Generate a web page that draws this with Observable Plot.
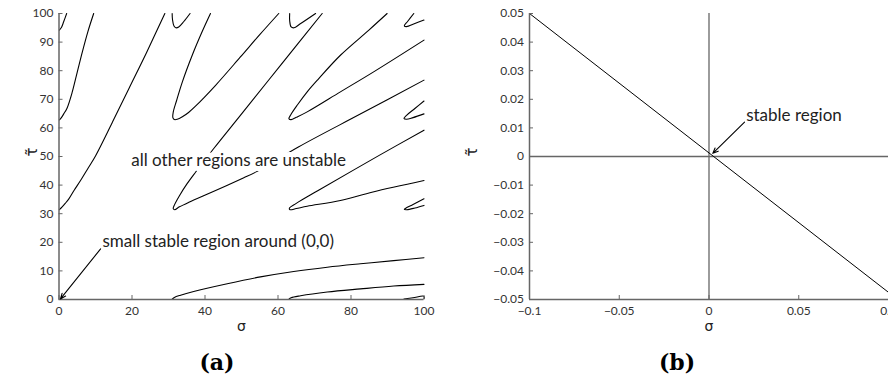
<!DOCTYPE html>
<html><head><meta charset="utf-8">
<script src="https://cdn.jsdelivr.net/npm/d3@7"></script>
<script src="https://cdn.jsdelivr.net/npm/@observablehq/plot@0.6"></script>
<style>
body{margin:0;background:#fff;}
#wrap{position:relative;width:888px;height:379px;overflow:hidden;background:#fff;}
.panel{position:absolute;top:0;width:444px;}
.cap{position:absolute;width:100px;text-align:center;font:bold 22px "DejaVu Serif";color:#000;line-height:24px;}
</style></head><body>
<div id="wrap">
  <div id="pa" class="panel" style="left:0"></div>
  <div id="pb" class="panel" style="left:444px"></div>
  <div class="cap" style="left:167px;top:350px">(a)</div>
  <div class="cap" style="left:627px;top:350px">(b)</div>
</div>
<script>
// ---------- Panel (a): stability boundary curves, [sigma, tau] ----------
const sigmaTicksA = [0, 20, 40, 60, 80, 100];
const tauTicksA = [0, 10, 20, 30, 40, 50, 60, 70, 80, 90, 100];

const curve0_3 = [[0.1,94.2],[0.7,95.2],[1.3,97.2],[2.1,100]];
const curve0_2 = [[0.1,62.8],[0.6,63.5],[1.3,64.9],[2.2,66.9],[3.6,72.4],[5.0,79.5],[6.4,86.6],[7.9,93.6],[9.5,100]];
const curve0_1 = [[0.1,31.4],[0.8,32.3],[1.7,33.6],[2.7,35.2],[4.2,38.3],[5.9,41.6],[8.0,46.0],[10.0,50.2],[14.6,61.9],[19.2,73.9],[24.0,86.4],[29.0,100]];
const curve1_3 = [[31.0,100],[31.1,97.8],[31.5,95.6],[32.0,95.0],[32.8,95.3],[34.2,97.2],[35.9,100]];
const curve1_2 = [[41.5,100],[39.2,93.6],[36.5,85.4],[33.8,76.1],[32.2,69.5],[31.3,65.5],[31.2,63.6],[31.6,62.9],[32.4,63.0],[33.8,63.9],[35.5,65.4],[37.4,67.6],[42.9,74.9],[49.7,84.8],[55.0,92.6],[60.2,100]];
const curve1_1 = [[72.1,100],[60.9,82.2],[49.7,64.4],[42.4,52.8],[37.4,44.5],[35.1,40.5],[33.0,36.3],[31.6,33.0],[31.3,31.8],[31.7,31.4],[33.0,32.4],[35.6,34.0],[42.9,38.1],[50.5,42.5],[54.3,44.8],[65.7,53.4],[82.8,65.0],[100,76.7]];
const curve2_3 = [[63.2,100],[63.2,97.5],[63.6,95.3],[64.4,95.0],[66.0,96.3],[70.3,100]];
const curve2_2 = [[89.9,100],[84.9,94.2],[77.1,85.4],[71.0,77.0],[68.0,72.6],[65.3,68.0],[63.5,64.6],[63.0,63.2],[63.6,62.9],[65.0,63.7],[68.0,65.6],[77.1,72.6],[86.2,79.6],[100,90.7]];
const curve2_1 = [[100,59.2],[87.6,50.3],[71.0,38.1],[65.0,33.6],[63.1,31.9],[63.3,31.4],[65.0,31.8],[68.0,32.6],[77.1,34.6],[86.0,37.6],[100,41.6]];
const curve3_3 = [[97.2,100],[95.5,97.2],[94.6,95.7],[95.2,95.4],[97.5,96.5],[100,97.7]];
const curve3_2 = [[100,69.4],[97.5,66.8],[95.3,64.5],[94.5,63.3],[95.2,63.0],[97.0,63.6],[100,64.9]];
const curve3_1 = [[100,35.2],[97.0,33.2],[95.0,31.9],[94.6,31.5],[95.3,31.4],[97.5,32.0],[100,32.9]];
const curve1_0 = [[31.0,0.1],[31.6,0.7],[33.3,1.5],[36.9,2.8],[46.1,5.5],[55.2,7.9],[64.3,9.8],[73.5,11.3],[82.6,12.5],[91.7,13.6],[100,14.6]];
const curve2_0 = [[63.0,0.1],[63.6,0.6],[66.2,1.3],[73.5,2.6],[82.6,3.7],[91.7,4.7],[100,5.3]];
const curve3_0 = [[94.5,0.2],[97.0,0.6],[100,1.1],[100,0.2]];

const curvesA = [curve0_3, curve0_2, curve0_1, curve1_3, curve1_2, curve1_1, curve2_3, curve2_2, curve2_1,
                 curve3_3, curve3_2, curve3_1, curve1_0, curve2_0, curve3_0];
const rowsA = curvesA.flatMap((pts, id) => pts.map(([s, t]) => ({id, s, t})));

const textUnstable = "all other regions are unstable";
const textSmall = "small stable region around (0,0)";
const notesA = [{s: 49.2, t: 48.6, label: textUnstable}];
const notesA2 = [{s: 11.9, t: 20.4, label: textSmall}];
const arrowA = [{s1: 11.4, t1: 17.7, s2: 0.4, t2: 0.2}];

// ---------- Panel (b): zoom near origin ----------
const sigmaTicksB = [-0.1, -0.05, 0, 0.05, 0.1];
const tauTicksB = [-0.05, -0.04, -0.03, -0.02, -0.01, 0, 0.01, 0.02, 0.03, 0.04, 0.05];
const sigmaB = [-0.1, 0.1];
const tauB = [0.05, -0.0475];
const rowsB = sigmaB.map((s, i) => ({s, t: tauB[i]}));
const notesB = [{s: 0.0207, t: 0.0143, label: "stable region"}];
const arrowB = [{s1: 0.0198, t1: 0.0120, s2: 0.0021, t2: 0.0011}];

const axisColor = "#666";
const labelColor = "#333";
const tickFont = 12;
const fmt = d => String(d).replace("-", "\u2212");
const sans = "Lato, 'Open Sans', sans-serif";

function commonStyle() {
  return {fontFamily: sans, fontSize: "12px", color: labelColor, overflow: "visible", background: "transparent"};
}

const plotA = Plot.plot({
  width: 444, height: 340,
  marginLeft: 58.5, marginRight: 20.5, marginTop: 13, marginBottom: 41,
  style: commonStyle(),
  x: {domain: [0, 100], label: null},
  y: {domain: [0, 100], label: null},
  marks: [
    Plot.line(rowsA, {x: "s", y: "t", z: "id", stroke: "#000", strokeWidth: 1.1, curve: "catmull-rom"}),
    Plot.ruleX([0], {stroke: axisColor, strokeWidth: 1.5}),
    Plot.ruleY([0], {stroke: axisColor, strokeWidth: 1.5}),
    Plot.axisX(sigmaTicksA, {tickSize: -4, tickPadding: 10.5, stroke: axisColor, fill: labelColor, fontSize: tickFont, tickFormat: fmt, label: null}),
    Plot.axisY(tauTicksA, {tickSize: -4, tickPadding: 9.5, stroke: axisColor, fill: labelColor, fontSize: tickFont, tickFormat: fmt, label: null}),
    Plot.text(["σ"], {frameAnchor: "bottom", dy: 31, fontSize: 14, fontFamily: "DejaVu Sans", fill: "#222"}),
    Plot.text(["τ\u0303"], {frameAnchor: "left", dx: -26.5, rotate: -90, fontSize: 15, fontFamily: "DejaVu Sans", fill: "#222"}),
    Plot.text(notesA, {x: "s", y: "t", text: "label", textAnchor: "middle", fontSize: 17, fill: "#222", stroke: "white", strokeWidth: 10}),
    Plot.text(notesA2, {x: "s", y: "t", text: "label", textAnchor: "start", fontSize: 17, fill: "#222"}),
    Plot.arrow(arrowA, {x1: "s1", y1: "t1", x2: "s2", y2: "t2", stroke: "#000", strokeWidth: 1.1, headLength: 8, headAngle: 45})
  ]
});
document.getElementById("pa").append(plotA);

const plotB = Plot.plot({
  width: 444, height: 340,
  marginLeft: 85, marginRight: 0, marginTop: 13, marginBottom: 41,
  style: commonStyle(),
  x: {domain: [-0.1, 0.1], label: null},
  y: {domain: [-0.05, 0.05], label: null},
  marks: [
    Plot.ruleX([0], {stroke: axisColor, strokeWidth: 1.3}),
    Plot.ruleY([0], {stroke: axisColor, strokeWidth: 1.3}),
    Plot.line(rowsB, {x: "s", y: "t", stroke: "#000", strokeWidth: 1}),
    Plot.ruleX([-0.1], {stroke: axisColor, strokeWidth: 1.5}),
    Plot.ruleY([-0.05], {stroke: axisColor, strokeWidth: 1.5}),
    Plot.axisX(sigmaTicksB, {tickSize: -4, tickPadding: 10.5, stroke: axisColor, fill: labelColor, fontSize: tickFont, tickFormat: fmt, label: null}),
    Plot.axisY(tauTicksB, {tickSize: -4, tickPadding: 9.5, stroke: axisColor, fill: labelColor, fontSize: tickFont, tickFormat: fmt, label: null}),
    Plot.text(["σ"], {frameAnchor: "bottom", dy: 31, fontSize: 14, fontFamily: "DejaVu Sans", fill: "#222"}),
    Plot.text(["τ\u0303"], {frameAnchor: "left", dx: -57, rotate: -90, fontSize: 15, fontFamily: "DejaVu Sans", fill: "#222"}),
    Plot.text(notesB, {x: "s", y: "t", text: "label", textAnchor: "start", fontSize: 17, fill: "#222"}),
    Plot.arrow(arrowB, {x1: "s1", y1: "t1", x2: "s2", y2: "t2", stroke: "#000", strokeWidth: 1.1, headLength: 8, headAngle: 45})
  ]
});
document.getElementById("pb").append(plotB);
</script>
</body></html>
